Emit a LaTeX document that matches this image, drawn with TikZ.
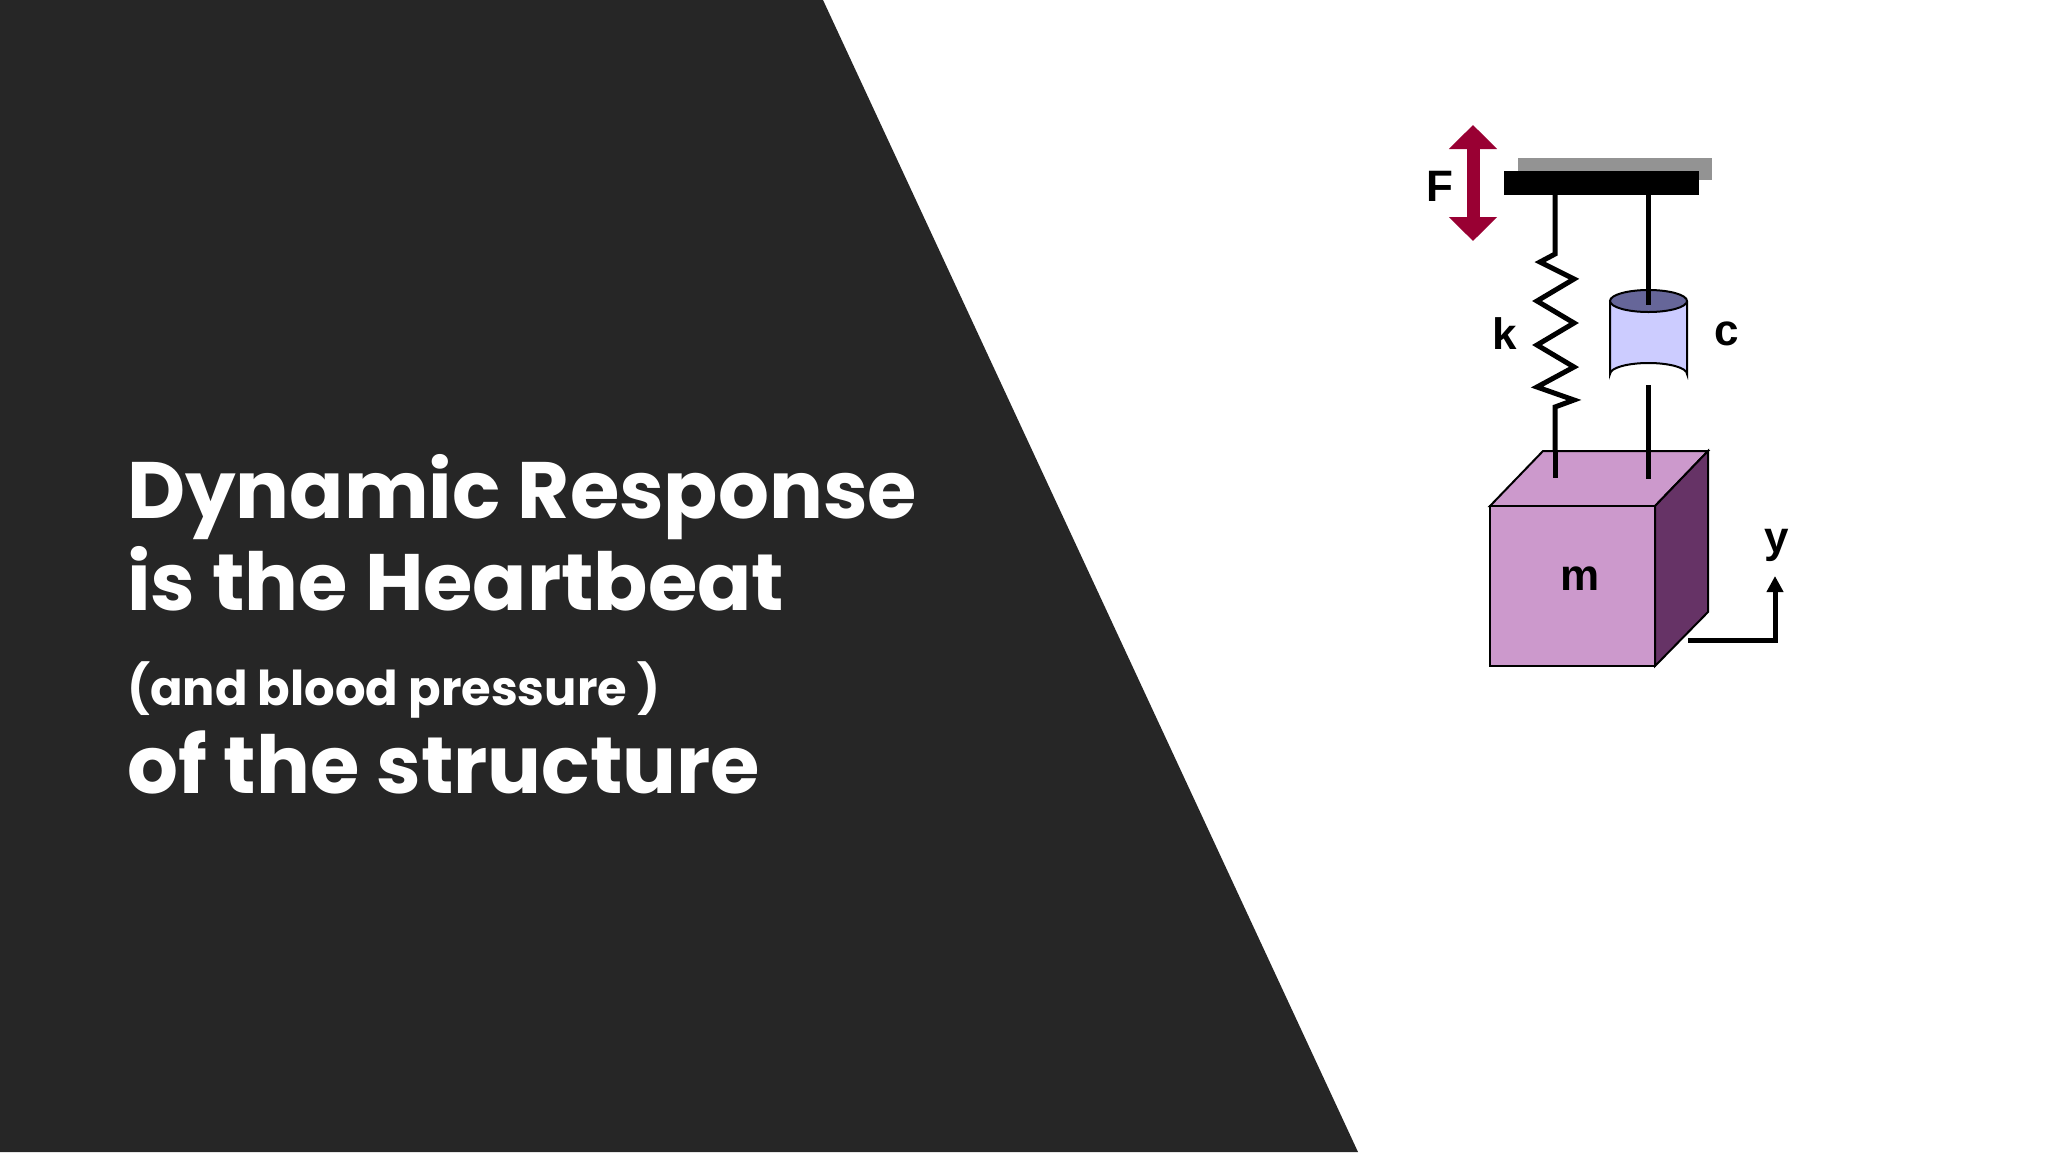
\documentclass[tikz,border=0pt]{standalone}
\usepackage{fontspec}
\setmainfont{Poppins}
\newfontfamily\arialf{Liberation Sans}
\usetikzlibrary{arrows.meta}
\definecolor{bgdark}{HTML}{262626}
\definecolor{massfront}{HTML}{CC99CC}
\definecolor{massside}{HTML}{663366}
\definecolor{cylbody}{HTML}{CCCCFF}
\definecolor{cyltop}{HTML}{666699}
\definecolor{forcered}{HTML}{990033}
\tikzset{
  title/.style={anchor=base west,text=white,font=\fontsize{80}{90}\selectfont\bfseries,inner sep=0},
  subtitle/.style={anchor=base west,text=white,font=\fontsize{48}{52}\selectfont\bfseries,inner sep=0},
  lab/.style={font=\arialf\bfseries\fontsize{44}{46}\selectfont,inner sep=0},
  wire/.style={line width=5pt,black},
  outline/.style={draw=black,line width=2pt},
}
\begin{document}
\begin{tikzpicture}[x=1pt,y=-1pt]
\useasboundingbox (0,0) rectangle (2048,1152);
\fill[white] (0,0) rectangle (2048,1152);
\fill[bgdark] (0,0) -- (823,0) -- (1358,1152) -- (0,1152) -- cycle;
\node[title] (t1) at (127,518) {Dynamic Response};
\node[title] (t2) at (127,610) {is the Heartbeat};
\node[subtitle] (t3) at (127,705) {(and blood pressure )};
\node[title] (t4) at (127,793) {of the structure};
% support bars
\fill[gray!85] (1518,158) rectangle (1712,180);
\fill[black] (1504,171) rectangle (1699,195);
% force arrow
\draw[forcered,line width=13pt,{Triangle[width=47pt,length=24pt]}-{Triangle[width=47pt,length=24pt]}] (1473,125) -- (1473,241);
\node[lab] (F) at (1440,186) {F};
% spring
\coordinate (s0) at (1555,195);
\coordinate (s1) at (1555,478);
\draw[wire,line join=miter] (s0) -- (1555,254) -- (1540,262) -- (1574,279) -- (1537,301) -- (1574,323) -- (1537,345) -- (1574,367) -- (1537,387) -- (1574,400) -- (1555,407) -- (s1);
\node[lab] (k) at (1505,334) {k};
% damper
\coordinate (d0) at (1648,195);
\coordinate (d1) at (1648,479);
\fill[cylbody,outline] (1610,301) -- (1610,374) arc[start angle=180,end angle=360,x radius=38.5,y radius=11] -- (1687,301);
\fill[cyltop,outline] (1648.5,301) ellipse[x radius=38.5,y radius=11];
\draw[wire] (d0) -- (1648,305);
\draw[wire] (1648,385) -- (d1);
\node[lab] (c) at (1727,334) {c};
% mass cube
\fill[massfront,outline] (1490,506) -- (1543,451) -- (1708,451) -- (1655,506) -- cycle;
\fill[massside,outline] (1655,506) -- (1708,451) -- (1708,612) -- (1655,666) -- cycle;
\fill[massfront,outline] (1490,506) rectangle (1655,666);
\draw[wire] (1555,451) -- (s1);
\draw[wire] (1648,451) -- (d1);
\node[lab] (m) at (1580,579) {m};
% y arrow
\coordinate (y0) at (1688,640);
\coordinate (y1) at (1775,576);
\draw[line width=5pt,-{Triangle[width=16pt,length=16pt]}] (y0) -- (1775,640) -- (y1);
\node[lab] (y) at (1777,545) {y};
\end{tikzpicture}
\end{document}
